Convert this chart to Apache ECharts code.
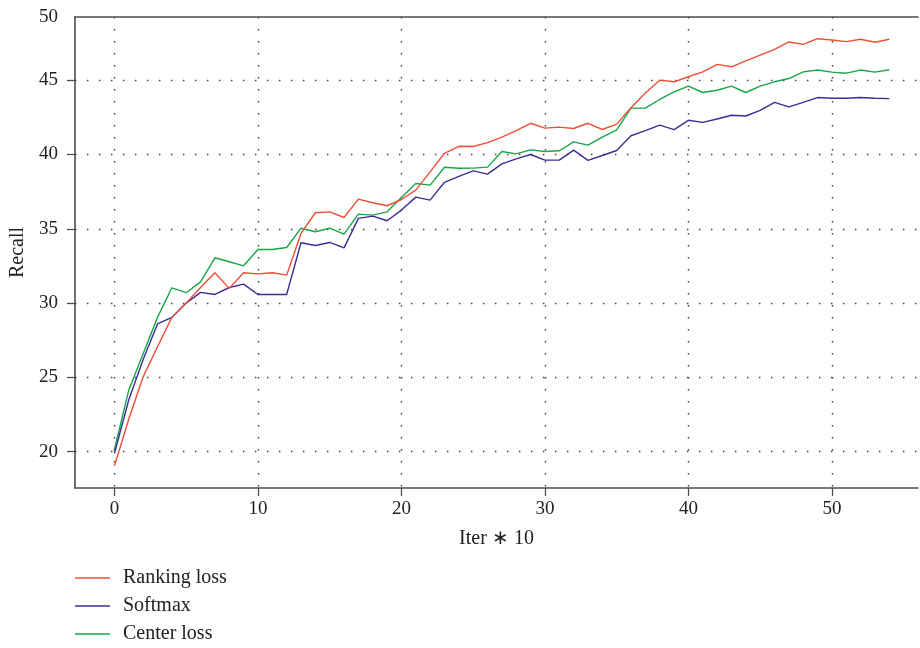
<!DOCTYPE html>
<html>
<head>
<meta charset="utf-8">
<script src="https://cdn.jsdelivr.net/npm/echarts@6/dist/echarts.min.js"></script>
<style>html,body{margin:0;padding:0;background:#fff}#c{width:920px;height:648px}</style>
</head>
<body>
<div id="c"></div>
<script>
const iters = [0,1,2,3,4,5,6,7,8,9,10,11,12,13,14,15,16,17,18,19,20,21,22,23,24,25,26,27,28,29,30,31,32,33,34,35,36,37,38,39,40,41,42,43,44,45,46,47,48,49,50,51,52,53,54];
const rankingLoss = [19.05,22.2,25.04,27.06,29.04,30.0,31.05,32.04,30.99,32.04,31.97,32.04,31.88,34.69,36.08,36.14,35.76,37.0,36.75,36.55,36.97,37.6,38.83,40.08,40.55,40.54,40.8,41.17,41.61,42.1,41.77,41.84,41.75,42.1,41.68,42.04,43.14,44.13,45.0,44.89,45.23,45.56,46.06,45.9,46.3,46.69,47.07,47.57,47.41,47.79,47.7,47.59,47.75,47.55,47.75];
const softmax = [19.9,23.5,26.2,28.6,29.04,30.0,30.72,30.58,31.05,31.28,30.58,30.58,30.58,34.06,33.88,34.08,33.72,35.7,35.85,35.54,36.26,37.13,36.93,38.13,38.53,38.9,38.68,39.37,39.7,40.0,39.62,39.62,40.29,39.6,39.93,40.27,41.26,41.61,41.97,41.67,42.3,42.16,42.39,42.64,42.59,42.97,43.51,43.2,43.51,43.83,43.78,43.78,43.83,43.78,43.76];
const centerLoss = [20.15,24.16,26.6,29.04,31.03,30.7,31.43,33.05,32.78,32.51,33.61,33.61,33.74,35.04,34.8,35.04,34.64,35.99,35.92,36.14,37.1,38.05,37.94,39.14,39.07,39.08,39.15,40.2,40.04,40.31,40.2,40.25,40.85,40.63,41.17,41.66,43.12,43.12,43.7,44.21,44.6,44.17,44.32,44.6,44.17,44.6,44.89,45.11,45.56,45.68,45.54,45.47,45.68,45.54,45.7];
const xTicks = [0,10,20,30,40,50];
const yTicks = [20,25,30,35,40,45];
const yLabelValues = [20,25,30,35,40,45,49.25];
const seriesNames = ['Ranking loss','Softmax','Center loss'];

const FONT = 'Liberation Serif';
const TXT = '#222';
const AX = '#4d4d4d';
const GRIDLINE = {show:true, lineStyle:{color:'#3a3a3a', width:1.4, type:[1.4,10.6]}};
function pairs(ys){ return iters.map((x,i)=>[x, ys[i]]); }

const chart = echarts.init(document.getElementById('c'), null, {renderer:'canvas'});
chart.setOption({
  animation:false,
  backgroundColor:'#fff',
  grid:{left:75, right:2, top:17, bottom:160, containLabel:false},
  legend:{
    data:seriesNames, orient:'vertical', left:75, top:567, height:120, padding:0,
    icon:'rect', itemWidth:35, itemHeight:1.5, itemGap:6,
    textStyle:{fontFamily:FONT, fontSize:20, color:TXT, lineHeight:22, padding:[0,0,0,8]}
  },
  xAxis:[{
    type:'value', min:-2.75, max:56, position:'bottom',
    name:'Iter ∗ 10', nameLocation:'middle', nameGap:41,
    nameTextStyle:{fontFamily:FONT, fontSize:20, color:TXT},
    axisLine:{show:true, onZero:false, lineStyle:{color:AX, width:1.6}},
    axisTick:{show:true, customValues:xTicks, length:8, inside:false, lineStyle:{color:AX, width:1.3}},
    axisLabel:{customValues:xTicks, margin:12, fontFamily:FONT, fontSize:19, color:TXT},
    splitLine:GRIDLINE
  },{
    type:'value', min:-2.75, max:56, position:'top',
    axisLine:{show:true, onZero:false, lineStyle:{color:AX, width:1.6}},
    axisTick:{show:false}, axisLabel:{show:false}, splitLine:{show:false}
  }],
  yAxis:{
    type:'value', min:17.56, max:49.25,
    name:'Recall', nameLocation:'middle', nameGap:43, nameRotate:90,
    nameTextStyle:{fontFamily:FONT, fontSize:20, color:TXT},
    axisLine:{show:true, onZero:false, lineStyle:{color:AX, width:1.6}},
    axisTick:{show:true, customValues:yTicks, length:8, inside:false, lineStyle:{color:AX, width:1.3}},
    axisLabel:{customValues:yLabelValues, margin:17, fontFamily:FONT, fontSize:19, color:TXT,
      formatter:function(v){ return v > 49 ? '50' : String(v); }},
    splitLine:GRIDLINE
  },
  series:[
    {name:seriesNames[0], type:'line', data:pairs(rankingLoss), symbol:'none', lineStyle:{color:'#ef4e36', width:1.4}, itemStyle:{color:'#ef4e36'}, z:3},
    {name:seriesNames[1], type:'line', data:pairs(softmax), symbol:'none', lineStyle:{color:'#3a2f95', width:1.4}, itemStyle:{color:'#3a2f95'}, z:2},
    {name:seriesNames[2], type:'line', data:pairs(centerLoss), symbol:'none', lineStyle:{color:'#17a64a', width:1.4}, itemStyle:{color:'#17a64a'}, z:1}
  ]
});
</script>
</body>
</html>
